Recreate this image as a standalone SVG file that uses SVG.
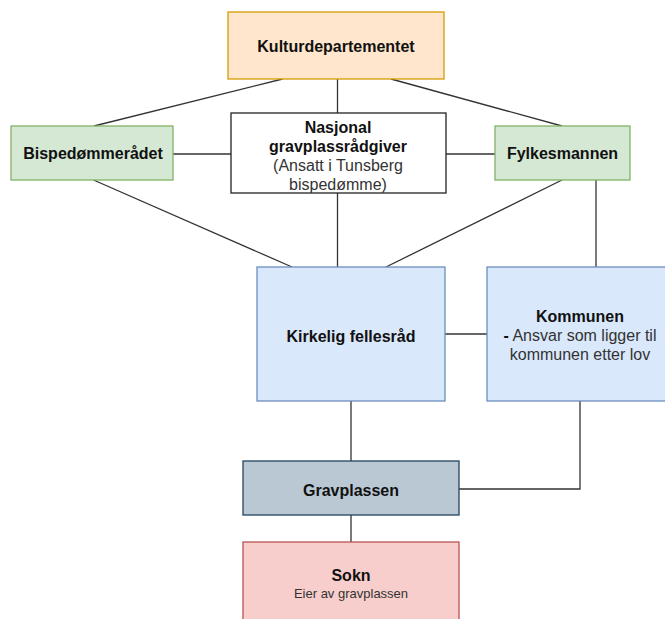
<svg xmlns="http://www.w3.org/2000/svg" width="665" height="619" viewBox="0 0 665 619">
<style>
  .t { font-family: "Liberation Sans", Arial, sans-serif; font-size: 16px; text-anchor: middle; fill: #111; }
  .b { font-weight: bold; }
  .n { fill: #333; }
  .s { font-size: 13px; }
  .c { stroke: #333; stroke-width: 1.3; fill: none; }
  rect { stroke-width: 1.3; }
</style>
<rect width="665" height="619" fill="#ffffff"/>
<g id="connectors" class="c">
  <line x1="282.5" y1="79" x2="94" y2="126"/>
  <line x1="337.5" y1="79" x2="337.5" y2="113"/>
  <line x1="391" y1="79" x2="562" y2="126"/>
  <line x1="173" y1="154" x2="231" y2="154"/>
  <line x1="446" y1="154" x2="495" y2="154"/>
  <line x1="93.5" y1="180" x2="292" y2="267"/>
  <line x1="337.5" y1="193" x2="337.5" y2="267"/>
  <line x1="562" y1="180" x2="386" y2="267"/>
  <line x1="596" y1="180" x2="596" y2="267"/>
  <line x1="445" y1="334" x2="487" y2="334"/>
  <line x1="351" y1="401" x2="351" y2="461"/>
  <polyline points="580,401 580,489 459,489"/>
  <line x1="351" y1="515" x2="351" y2="542"/>
</g>
<g id="kulturdepartementet">
  <rect x="228" y="12" width="216" height="67" fill="#ffe6cc" stroke="#d79b00"/>
  <text class="t b" x="336" y="51.5">Kulturdepartementet</text>
</g>
<g id="bispedommeradet">
  <rect x="11" y="126" width="162" height="54" fill="#d5e8d4" stroke="#82b366"/>
  <text class="t b" x="93" y="159">Bispedømmerådet</text>
</g>
<g id="nasjonal">
  <rect x="231" y="113" width="215" height="80" fill="#ffffff" stroke="#222"/>
  <text class="t b" x="338" y="132.5">Nasjonal</text>
  <text class="t b" x="338" y="152">gravplassrådgiver</text>
  <text class="t n" x="338" y="171">(Ansatt i Tunsberg</text>
  <text class="t n" x="338" y="189.5">bispedømme)</text>
</g>
<g id="fylkesmannen">
  <rect x="495" y="126" width="135" height="54" fill="#d5e8d4" stroke="#82b366"/>
  <text class="t b" x="562.5" y="159">Fylkesmannen</text>
</g>
<g id="kirkelig">
  <rect x="257" y="267" width="188" height="134" fill="#dae8fc" stroke="#6c8ebf"/>
  <text class="t b" x="351" y="341.5">Kirkelig fellesråd</text>
</g>
<g id="kommunen">
  <rect x="487" y="267" width="186" height="134" fill="#dae8fc" stroke="#6c8ebf"/>
  <text class="t b" x="580" y="322">Kommunen</text>
  <text class="t n" x="580" y="341"><tspan class="b" fill="#111">-</tspan> Ansvar som ligger til</text>
  <text class="t n" x="580" y="359.5">kommunen etter lov</text>
</g>
<g id="gravplassen">
  <rect x="243" y="461" width="216" height="54" fill="#bac8d3" stroke="#23445d"/>
  <text class="t b" x="351" y="495.5">Gravplassen</text>
</g>
<g id="sokn">
  <rect x="243" y="542" width="216" height="90" fill="#f8cecc" stroke="#b85450"/>
  <text class="t b" x="351" y="580.5">Sokn</text>
  <text class="t n s" x="351" y="597.5">Eier av gravplassen</text>
</g>
</svg>
